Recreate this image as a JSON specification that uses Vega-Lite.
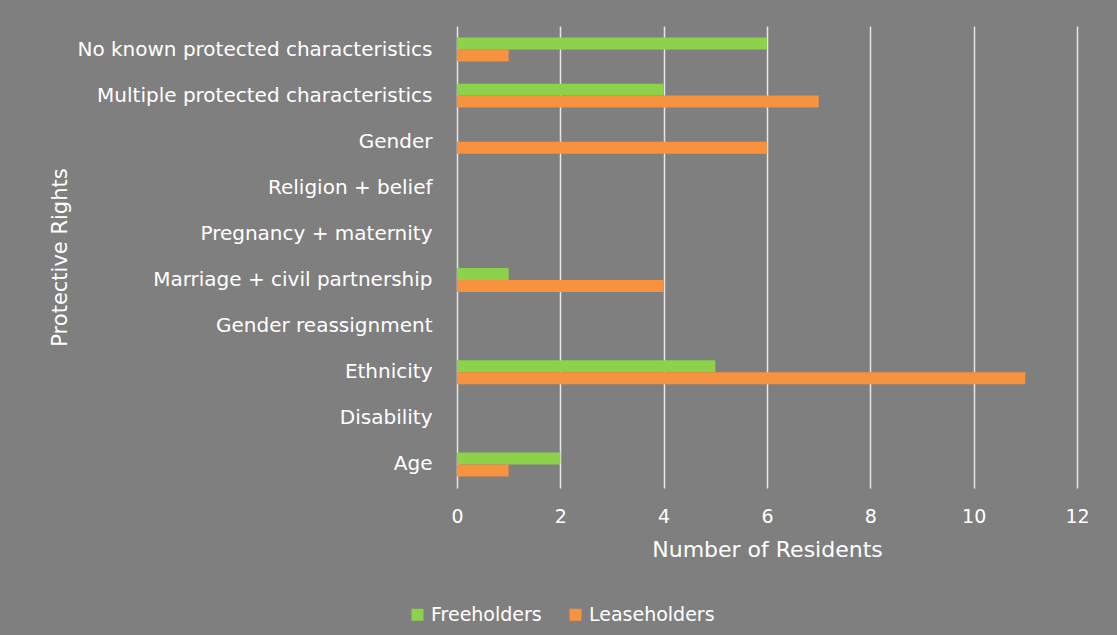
{
  "$schema": "https://vega.github.io/schema/vega-lite/v6.json",
  "autosize": "none",
  "width": 620,
  "height": 462,
  "padding": {"left": 457, "top": 26, "right": 40, "bottom": 147},
  "background": "#7f7f7f",
  "config": {
    "view": {"stroke": null},
    "font": "DejaVu Sans",
    "axis": {"labelFont": "DejaVu Sans", "titleFont": "DejaVu Sans", "titleFontWeight": "normal"},
    "legend": {"labelFont": "DejaVu Sans"}
  },
  "data": {
    "values": [
      {"category": "No known protected characteristics", "type": "Freeholders", "count": 6},
      {"category": "No known protected characteristics", "type": "Leaseholders", "count": 1},
      {"category": "Multiple protected characteristics", "type": "Freeholders", "count": 4},
      {"category": "Multiple protected characteristics", "type": "Leaseholders", "count": 7},
      {"category": "Gender", "type": "Freeholders", "count": 0},
      {"category": "Gender", "type": "Leaseholders", "count": 6},
      {"category": "Religion + belief", "type": "Freeholders", "count": 0},
      {"category": "Religion + belief", "type": "Leaseholders", "count": 0},
      {"category": "Pregnancy + maternity", "type": "Freeholders", "count": 0},
      {"category": "Pregnancy + maternity", "type": "Leaseholders", "count": 0},
      {"category": "Marriage + civil partnership", "type": "Freeholders", "count": 1},
      {"category": "Marriage + civil partnership", "type": "Leaseholders", "count": 4},
      {"category": "Gender reassignment", "type": "Freeholders", "count": 0},
      {"category": "Gender reassignment", "type": "Leaseholders", "count": 0},
      {"category": "Ethnicity", "type": "Freeholders", "count": 5},
      {"category": "Ethnicity", "type": "Leaseholders", "count": 11},
      {"category": "Disability", "type": "Freeholders", "count": 0},
      {"category": "Disability", "type": "Leaseholders", "count": 0},
      {"category": "Age", "type": "Freeholders", "count": 2},
      {"category": "Age", "type": "Leaseholders", "count": 1}
    ]
  },
  "mark": {"type": "bar"},
  "encoding": {
    "y": {
      "field": "category",
      "type": "nominal",
      "sort": null,
      "scale": {"paddingInner": 0.48, "paddingOuter": 0.25},
      "axis": {
        "title": "Protective Rights",
        "domain": false,
        "ticks": false,
        "labelPadding": 25,
        "labelFontSize": 20,
        "labelColor": "#ffffff",
        "titleFontSize": 21,
        "titleColor": "#ffffff",
        "titleX": -397,
        "titleBaseline": "middle",
        "labelLimit": 500
      }
    },
    "yOffset": {"field": "type", "type": "nominal"},
    "x": {
      "field": "count",
      "type": "quantitative",
      "scale": {"domain": [0, 12], "nice": false},
      "axis": {
        "title": "Number of Residents",
        "values": [0, 2, 4, 6, 8, 10, 12],
        "grid": true,
        "gridColor": "#e6e6e6",
        "gridWidth": 1.5,
        "domain": false,
        "ticks": false,
        "labelFlush": false,
        "labelPadding": 19,
        "labelFontSize": 19,
        "labelColor": "#ffffff",
        "titleFontSize": 22,
        "titleColor": "#ffffff",
        "titlePadding": 13
      }
    },
    "color": {
      "field": "type",
      "type": "nominal",
      "scale": {"domain": ["Freeholders", "Leaseholders"], "range": ["#8cd24a", "#f7923e"]},
      "legend": {
        "title": null,
        "orient": "none",
        "direction": "horizontal",
        "legendX": -49,
        "legendY": 579,
        "symbolType": "square",
        "symbolSize": 144,
        "symbolStrokeWidth": 0,
        "labelFontSize": 19,
        "labelColor": "#ffffff",
        "labelOffset": 4,
        "columnPadding": 24
      }
    }
  }
}
